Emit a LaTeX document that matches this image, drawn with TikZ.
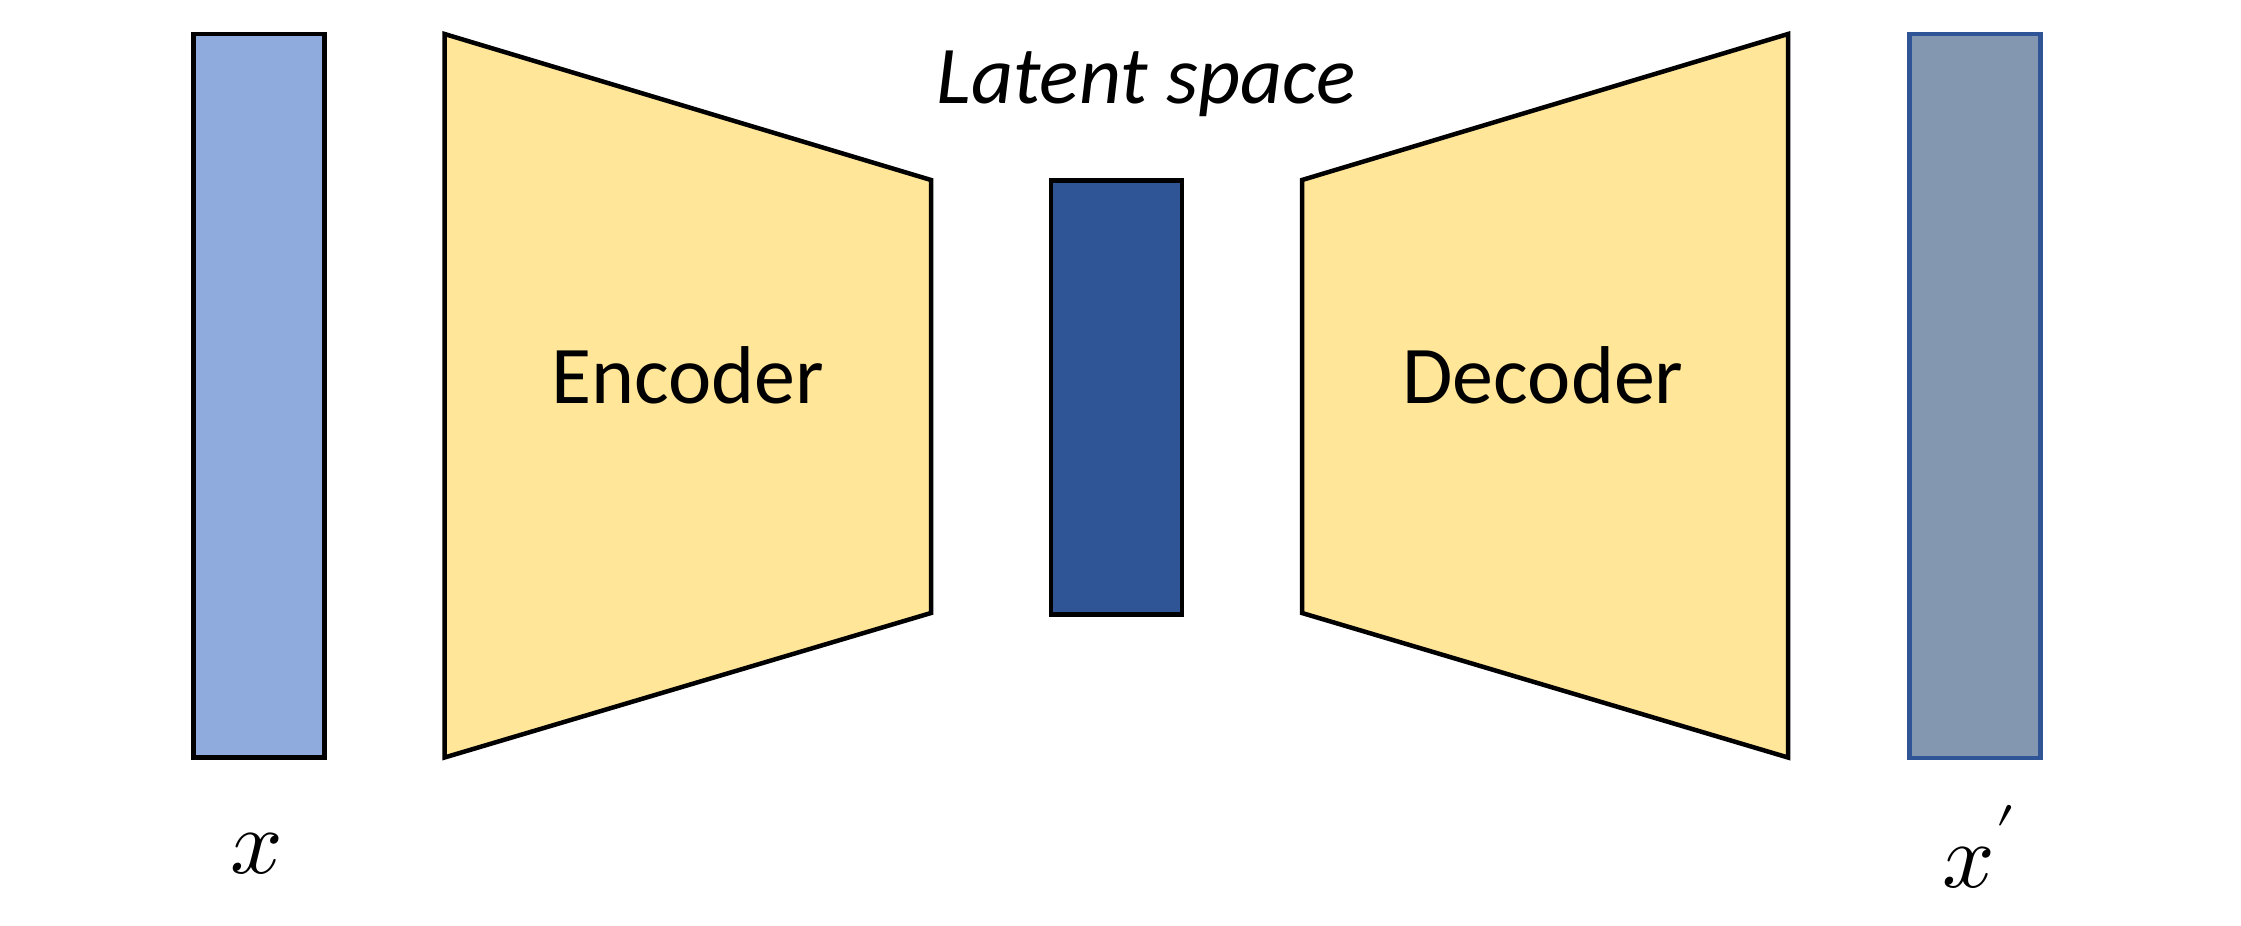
\documentclass[tikz,border=0pt]{standalone}
\usepackage{fontspec}
\usepackage{unicode-math}
\setmainfont{Carlito}
\setmathfont{Latin Modern Math}
\definecolor{inblue}{HTML}{8FAADC}
\definecolor{codeyellow}{HTML}{FFE699}
\definecolor{latentblue}{HTML}{2F5597}
\definecolor{outgrey}{HTML}{8497B0}
\begin{document}
\begin{tikzpicture}[x=1pt,y=-1pt,
  blk/.style={line width=4.5pt, line join=miter},
  lbl/.style={font=\fontsize{82}{92}\selectfont, anchor=base, inner sep=0pt},
  mlbl/.style={font=\fontsize{92}{100}\selectfont, anchor=base, inner sep=0pt}]
\useasboundingbox (0,0) rectangle (2241,926);
% input x
\draw[blk, fill=inblue] (193.5,34) rectangle (324.5,757.5);
% encoder
\draw[blk, fill=codeyellow] (444.5,34) -- (931,180) -- (931,613) -- (444.5,757.5) -- cycle;
% latent
\draw[blk, fill=latentblue] (1051,180.5) rectangle (1182,614.5);
% decoder
\draw[blk, fill=codeyellow] (1302,180) -- (1788,34) -- (1788,757.5) -- (1302,613) -- cycle;
% output x'
\draw[blk, draw=latentblue, fill=outgrey] (1909.5,34) rectangle (2040.5,758);
% labels
\node[lbl] (enc) at (688,403) {Encoder};
\node[lbl] (dec) at (1543,403) {Decoder};
\node[lbl] (lat) at (1146,103) {\itshape Latent space};
\node[mlbl] (xin) at (257,873) {$x$};
\node[mlbl] (xout) at (1979,887) {$x'$};
\end{tikzpicture}
\end{document}
